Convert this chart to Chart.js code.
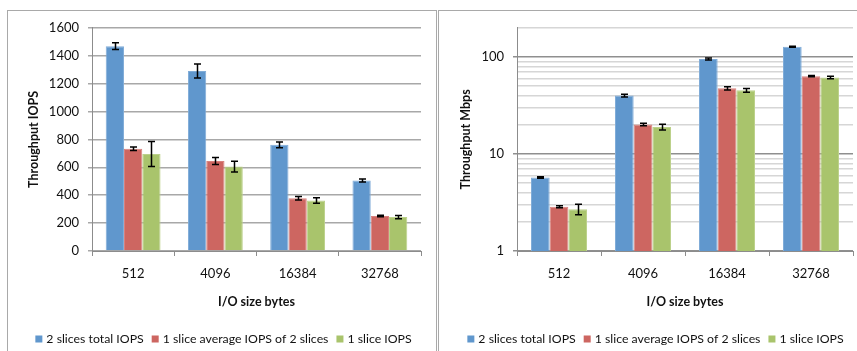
<!DOCTYPE html>
<html>
<head>
<meta charset="utf-8">
<script src="https://cdn.jsdelivr.net/npm/chart.js@4/dist/chart.umd.min.js"></script>
<style>
  html, body { margin: 0; padding: 0; background: #fff; width: 857px; height: 351px; overflow: hidden; }
  body { position: relative; }
  .panel { position: absolute; top: 10px; width: 430px; height: 360px; border: 1px solid #a9a9a9; box-sizing: border-box; }
  #p1 { left: 7px; }
  #p2 { left: 438px; }
  canvas { position: absolute; }
  #c1 { left: 8px; top: 11px; }
  #c2 { left: 439px; top: 11px; }
</style>
</head>
<body>
<div class="panel" id="p1"></div>
<div class="panel" id="p2"></div>
<canvas id="c1" width="427" height="340"></canvas>
<canvas id="c2" width="427" height="340"></canvas>
<script>
// I/O sizes tested (bytes)
const categories = ['512', '4096', '16384', '32768'];
const seriesNames = ['2 slices total IOPS', '1 slice average IOPS of 2 slices', '1 slice IOPS'];

// Throughput in IOPS, with error half-ranges
const iopsTotal2 = [1468, 1291, 761, 506];
const iopsAvg2 = [733, 645, 378, 251];
const iopsSingle = [695, 605, 362, 243];
const iopsTotal2Err = [24, 50, 21, 11];
const iopsAvg2Err = [12, 25, 12, 5];
const iopsSingleErr = [90, 39, 19, 11];

// Throughput in Mbps, with error half-ranges
const mbpsTotal2 = [5.73, 40.0, 95.4, 127.5];
const mbpsAvg2 = [2.86, 20.1, 47.5, 63.5];
const mbpsSingle = [2.70, 19.0, 45.3, 61.5];
const mbpsTotal2Err = [0.1, 1.4, 2.5, 1.5];
const mbpsAvg2Err = [0.06, 0.6, 1.8, 1.0];
const mbpsSingleErr = [0.33, 1.3, 2.0, 2.0];

// Axis ranges and labels
const iopsAxis = { min: 0, max: 1600, step: 200 };
const mbpsAxis = { min: 1, max: 200 };
const mbpsLabelled = [1, 10, 100];

const xTitle = 'I/O size bytes';
const yTitleIops = 'Throughput IOPS';
const yTitleMbps = 'Throughput Mbps';

const FONT = 'Lato, "Open Sans", sans-serif';
const fills = ['#6097cd', '#cd6661', '#a9c46c'];
const edges = ['#80acd8', '#d9827e', '#bcd18b'];

function makeDatasets(values, errors) {
  return values.map((v, i) => ({
    label: seriesNames[i],
    data: v,
    errorBars: errors[i],
    backgroundColor: fills[i],
    borderColor: edges[i],
    borderWidth: 1,
    barPercentage: 1,
    categoryPercentage: 3 / 4.5
  }));
}

// Error bars drawn over each bar from its value +/- error
const errorBarPlugin = {
  id: 'errorBars',
  afterDatasetsDraw(chart) {
    const ctx = chart.ctx;
    const y = chart.scales.y;
    ctx.save();
    ctx.strokeStyle = '#000';
    ctx.lineWidth = 1.5;
    chart.data.datasets.forEach((ds, i) => {
      const meta = chart.getDatasetMeta(i);
      meta.data.forEach((bar, j) => {
        const v = ds.data[j], e = ds.errorBars[j];
        const top = y.getPixelForValue(v + e);
        const bot = y.getPixelForValue(v - e);
        const cx = Math.round(bar.x) + 0.5, hw = 3.5;
        ctx.beginPath();
        ctx.moveTo(cx, top); ctx.lineTo(cx, bot);
        ctx.moveTo(cx - hw, top); ctx.lineTo(cx + hw, top);
        ctx.moveTo(cx - hw, bot); ctx.lineTo(cx + hw, bot);
        ctx.stroke();
      });
    });
    ctx.restore();
  }
};

// Axis titles and the legend row beneath the plot
const decorPlugin = {
  id: 'decor',
  afterDraw(chart, args, opts) {
    const ctx = chart.ctx;
    const a = chart.chartArea;
    ctx.save();
    ctx.fillStyle = '#111';
    ctx.textAlign = 'center';
    ctx.textBaseline = 'middle';
    ctx.font = 'bold 12.5px ' + FONT;
    ctx.fillText(opts.xTitle, (a.left + a.right) / 2, opts.xTitleY);
    ctx.save();
    ctx.translate(opts.yTitleX, (a.top + a.bottom) / 2);
    ctx.rotate(-Math.PI / 2);
    ctx.fillText(opts.yTitle, 0, 0);
    ctx.restore();

    ctx.font = '12.3px ' + FONT;
    const box = 7, gap = 4, spacing = 8;
    const items = chart.data.datasets.map(d => ({ text: d.label, color: d.backgroundColor, w: ctx.measureText(d.label).width }));
    const total = items.reduce((s, it) => s + box + gap + it.w, 0) + spacing * (items.length - 1);
    let x = chart.width / 2 - total / 2 + opts.legendShift;
    const ly = opts.legendY;
    ctx.textAlign = 'left';
    items.forEach(it => {
      ctx.fillStyle = it.color;
      ctx.fillRect(x, ly - box / 2, box, box);
      x += box + gap;
      ctx.fillStyle = '#111';
      ctx.fillText(it.text, x, ly + 0.5);
      x += it.w + spacing;
    });
    ctx.restore();
  }
};

const xScale = {
  type: 'category',
  offset: true,
  grid: { offset: true, drawOnChartArea: false, drawTicks: true, tickLength: 5, color: '#8c8c8c' },
  border: { color: '#8c8c8c', width: 1 },
  ticks: { font: { family: FONT, size: 13 }, color: '#111', padding: 10, maxRotation: 0 },
  afterFit(s) { s.height = 100; }
};

// Linear IOPS chart
new Chart(document.getElementById('c1'), {
  type: 'bar',
  data: { labels: categories, datasets: makeDatasets([iopsTotal2, iopsAvg2, iopsSingle], [iopsTotal2Err, iopsAvg2Err, iopsSingleErr]) },
  options: {
    responsive: false,
    devicePixelRatio: 1,
    animation: false,
    layout: { padding: { left: 0, top: 14.7, right: 14, bottom: 0 } },
    plugins: {
      legend: { display: false },
      tooltip: { enabled: false },
      decor: { xTitle: xTitle, yTitle: yTitleIops, xTitleY: 291, yTitleX: 26, legendY: 328, legendShift: 2 }
    },
    scales: {
      x: xScale,
      y: {
        min: iopsAxis.min, max: iopsAxis.max,
        grid: { color: '#a8a8a8', lineWidth: 1.5, tickLength: 4, tickColor: '#a8a8a8' },
        border: { color: '#8c8c8c', width: 1 },
        ticks: {
          stepSize: iopsAxis.step, font: { family: FONT, size: 13 }, color: '#111', padding: 9,
          callback: v => String(v)
        },
        afterFit(s) { s.width = 84; }
      }
    }
  },
  plugins: [errorBarPlugin, decorPlugin]
});

// Logarithmic Mbps chart
const isDecade = v => Math.abs(Math.log10(v) - Math.round(Math.log10(v))) < 1e-9;
new Chart(document.getElementById('c2'), {
  type: 'bar',
  data: { labels: categories, datasets: makeDatasets([mbpsTotal2, mbpsAvg2, mbpsSingle], [mbpsTotal2Err, mbpsAvg2Err, mbpsSingleErr]) },
  options: {
    responsive: false,
    devicePixelRatio: 1,
    animation: false,
    layout: { padding: { left: 0, top: 14.7, right: 13, bottom: 0 } },
    plugins: {
      legend: { display: false },
      tooltip: { enabled: false },
      decor: { xTitle: xTitle, yTitle: yTitleMbps, xTitleY: 291, yTitleX: 27, legendY: 328, legendShift: 3 }
    },
    scales: {
      x: xScale,
      y: {
        type: 'logarithmic',
        min: mbpsAxis.min, max: mbpsAxis.max,
        afterBuildTicks(s) {
          const ticks = [];
          for (let d = 1; d <= s.max; d *= 10) {
            for (let k = 1; k <= 9; k++) { if (k * d <= s.max) ticks.push({ value: k * d }); }
          }
          s.ticks = ticks;
        },
        grid: {
          color: c => isDecade(c.tick.value) ? '#8f8f8f' : '#d6d6d6',
          tickColor: c => isDecade(c.tick.value) ? '#8f8f8f' : 'rgba(0,0,0,0)',
          lineWidth: 1.5, tickLength: 4
        },
        border: { color: '#8c8c8c', width: 1 },
        ticks: {
          autoSkip: false,
          font: { family: FONT, size: 13 }, color: '#111', padding: 9,
          callback: v => mbpsLabelled.includes(v) ? String(v) : ''
        },
        afterFit(s) { s.width = 78; }
      }
    }
  },
  plugins: [errorBarPlugin, decorPlugin]
});
</script>
</body>
</html>
